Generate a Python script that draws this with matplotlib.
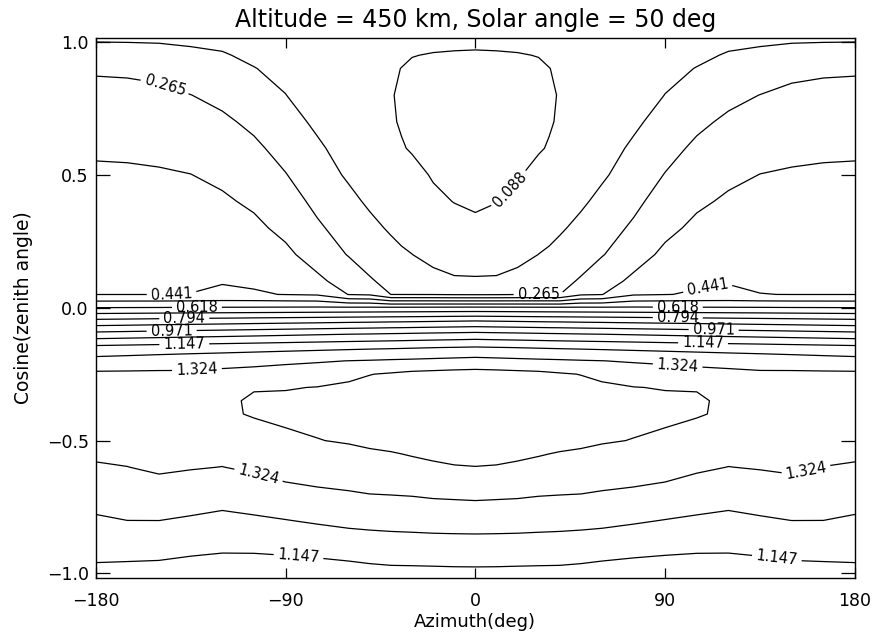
import numpy as np
import matplotlib
matplotlib.use('Agg')
import matplotlib.pyplot as plt

# azimuth columns (deg), field is symmetric about azimuth 0
azimuth = [0, 10, 20, 30, 35, 40, 50, 60, 75, 90, 105, 120, 135, 150, 165, 180]

# cosine of zenith angle, one row of the field per value
cos_zenith = [1.0, 0.95, 0.9, 0.8, 0.7, 0.6, 0.5, 0.4, 0.3, 0.2, 0.1, 0.05,
              0.0, -0.05, -0.1, -0.15, -0.2, -0.25, -0.3, -0.35, -0.4,
              -0.5, -0.6, -0.7, -0.8, -0.9, -1.0]

intensity = [
    [0.100, 0.102, 0.104, 0.112, 0.115, 0.118, 0.125, 0.132, 0.142, 0.150, 0.158, 0.165, 0.170, 0.1745, 0.176, 0.1768],
    [0.080, 0.081, 0.084, 0.090, 0.098, 0.105, 0.118, 0.128, 0.141, 0.155, 0.165, 0.182, 0.190, 0.200, 0.207, 0.211],
    [0.070, 0.071, 0.074, 0.078, 0.087, 0.096, 0.112, 0.125, 0.141, 0.160, 0.179, 0.203, 0.216, 0.249, 0.255, 0.257],
    [0.062, 0.063, 0.066, 0.072, 0.081, 0.091, 0.108, 0.125, 0.146, 0.178, 0.214, 0.244, 0.266, 0.278, 0.283, 0.285],
    [0.060, 0.061, 0.066, 0.074, 0.083, 0.094, 0.112, 0.130, 0.162, 0.208, 0.248, 0.279, 0.296, 0.307, 0.312, 0.314],
    [0.062, 0.064, 0.072, 0.083, 0.092, 0.102, 0.122, 0.143, 0.190, 0.238, 0.280, 0.308, 0.325, 0.336, 0.341, 0.343],
    [0.068, 0.071, 0.083, 0.105, 0.110, 0.115, 0.140, 0.165, 0.218, 0.268, 0.310, 0.337, 0.354, 0.360, 0.363, 0.364],
    [0.078, 0.0865, 0.100, 0.129, 0.134, 0.140, 0.163, 0.199, 0.246, 0.300, 0.340, 0.364, 0.374, 0.378, 0.380, 0.381],
    [0.102, 0.110, 0.126, 0.153, 0.160, 0.166, 0.199, 0.230, 0.277, 0.333, 0.370, 0.389, 0.393, 0.396, 0.397, 0.398],
    [0.140, 0.143, 0.158, 0.1775, 0.185, 0.205, 0.234, 0.260, 0.318, 0.370, 0.401, 0.413, 0.413, 0.414, 0.415, 0.415],
    [0.185, 0.186, 0.197, 0.235, 0.240, 0.245, 0.272, 0.318, 0.370, 0.416, 0.432, 0.438, 0.432, 0.432, 0.432, 0.432],
    [0.257, 0.258, 0.262, 0.263, 0.2635, 0.264, 0.342, 0.350, 0.432, 0.439, 0.447, 0.450, 0.442, 0.440, 0.440, 0.440],
    [0.635, 0.6345, 0.633, 0.632, 0.6315, 0.631, 0.630, 0.629, 0.628, 0.6265, 0.625, 0.624, 0.623, 0.621, 0.620, 0.6185],
    [0.884, 0.880, 0.876, 0.872, 0.870, 0.869, 0.865, 0.862, 0.856, 0.851, 0.846, 0.840, 0.835, 0.830, 0.824, 0.819],
    [1.088, 1.083, 1.079, 1.074, 1.071, 1.069, 1.064, 1.060, 1.053, 1.0455, 1.038, 1.031, 1.024, 1.017, 1.010, 1.003],
    [1.243, 1.239, 1.235, 1.231, 1.229, 1.227, 1.224, 1.220, 1.214, 1.208, 1.202, 1.196, 1.191, 1.185, 1.179, 1.173],
    [1.353, 1.348, 1.343, 1.338, 1.336, 1.334, 1.329, 1.325, 1.317, 1.3095, 1.302, 1.295, 1.288, 1.281, 1.273, 1.266],
    [1.445, 1.442, 1.437, 1.432, 1.426, 1.420, 1.410, 1.385, 1.368, 1.361, 1.351, 1.345, 1.338, 1.340, 1.340, 1.340],
    [1.450, 1.449, 1.447, 1.445, 1.442, 1.440, 1.435, 1.432, 1.414, 1.408, 1.408, 1.390, 1.375, 1.360, 1.355, 1.355],
    [1.455, 1.454, 1.452, 1.450, 1.448, 1.447, 1.442, 1.437, 1.430, 1.425, 1.420, 1.400, 1.380, 1.370, 1.365, 1.365],
    [1.455, 1.454, 1.452, 1.450, 1.448, 1.447, 1.442, 1.437, 1.430, 1.428, 1.418, 1.400, 1.380, 1.370, 1.365, 1.365],
    [1.445, 1.444, 1.442, 1.440, 1.436, 1.432, 1.427, 1.418, 1.410, 1.397, 1.378, 1.362, 1.360, 1.360, 1.360, 1.360],
    [1.411, 1.409, 1.403, 1.393, 1.388, 1.384, 1.377, 1.371, 1.362, 1.353, 1.336, 1.323, 1.329, 1.337, 1.323, 1.315],
    [1.342, 1.339, 1.336, 1.330, 1.3285, 1.327, 1.3245, 1.318, 1.311, 1.301, 1.283, 1.270, 1.279, 1.287, 1.280, 1.271],
    [1.272, 1.271, 1.270, 1.267, 1.2655, 1.264, 1.261, 1.257, 1.246, 1.234, 1.224, 1.216, 1.227, 1.2365, 1.2362, 1.226],
    [1.202, 1.2015, 1.200, 1.198, 1.1975, 1.197, 1.193, 1.187, 1.176, 1.168, 1.162, 1.160, 1.168, 1.177, 1.179, 1.176],
    [1.129, 1.1285, 1.127, 1.126, 1.1255, 1.125, 1.120, 1.112, 1.106, 1.102, 1.100, 1.104, 1.108, 1.118, 1.121, 1.127],
]

levels = [0.088, 0.177, 0.265, 0.353, 0.441, 0.530, 0.618, 0.706,
          0.794, 0.883, 0.971, 1.059, 1.147, 1.236, 1.324, 1.412]
labeled_levels = levels[0::2]
plain_levels = levels[1::2]

# where the contour labels sit (azimuth, cosine)
label_pos = [(-147, 0.84), (17, 0.44), (30, 0.047),
             (-144, 0.048), (-132, 0.003), (-138, -0.043), (-144, -0.089),
             (-138, -0.135), (-132, -0.232),
             (110, 0.085), (96, 0.012), (96, -0.035), (113, -0.085),
             (108, -0.125), (96, -0.21),
             (-103, -0.635), (157, -0.62), (-84, -0.95), (143, -0.94)]

az = np.array(azimuth, dtype=float)
z = np.array(intensity)
az_full = np.concatenate([-az[:0:-1], az])
z_full = np.hstack([z[:, :0:-1], z])

plt.rcParams['font.family'] = 'DejaVu Sans'

fig = plt.figure(figsize=(8.75, 6.39), dpi=100)
ax = fig.add_axes([0.1094, 0.0959, 0.8677, 0.8451])

ax.contour(az_full, cos_zenith, z_full, levels=plain_levels,
           colors='black', linewidths=0.9)
cs = ax.contour(az_full, cos_zenith, z_full, levels=labeled_levels,
                colors='black', linewidths=0.9)
ax.clabel(cs, manual=label_pos, fmt='%.3f',
          fontsize=10.5, inline=True, inline_spacing=4)

ax.set_xlim(-180, 180)
ax.set_ylim(-1.016, 1.016)
ax.set_xticks([-180, -90, 0, 90, 180])
ax.set_yticks([-1.0, -0.5, 0.0, 0.5, 1.0])
ax.tick_params(direction='in', top=True, right=True, width=0.9,
               labelsize=12.5)
ax.tick_params(axis='x', length=7.2, pad=10)
ax.tick_params(axis='y', length=10, pad=5)
for sp in ax.spines.values():
    sp.set_linewidth(1.0)

ax.set_title('Altitude = 450 km, Solar angle = 50 deg', fontsize=17, pad=8)
ax.set_xlabel('Azimuth(deg)', fontsize=13)
ax.set_ylabel('Cosine(zenith angle)', fontsize=13.5)
ax.xaxis.set_label_coords(0.5, -0.065)
ax.yaxis.set_label_coords(-0.083, 0.5)

fig.savefig('out.png', dpi=100)
